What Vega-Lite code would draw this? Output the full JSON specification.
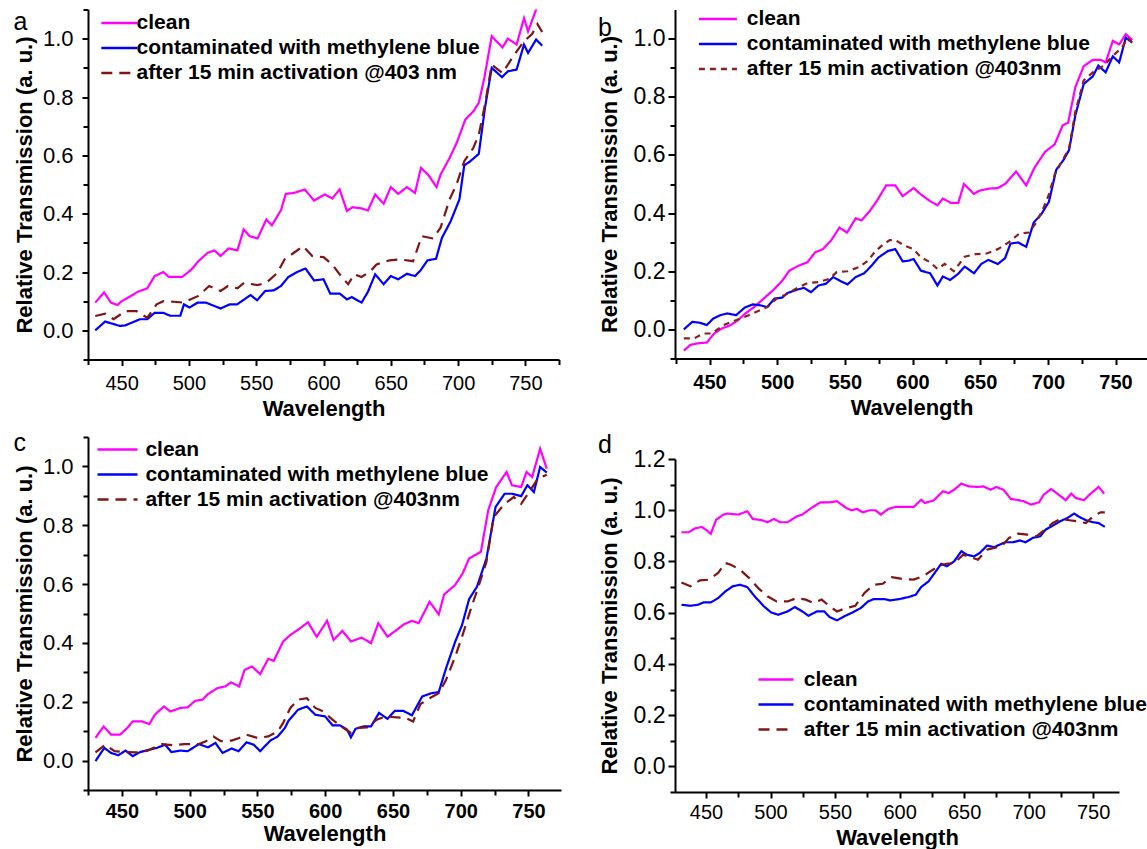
{
"$schema": "https://vega.github.io/schema/vega-lite/v6.json",
"padding": {"left": 13, "top": -2.5, "right": 0, "bottom": 0},
"config": {
  "font": "Liberation Sans",
  "view": {"stroke": null},
  "axis": {"domainColor": "black", "domainWidth": 2, "tickColor": "black", "tickWidth": 2, "labelColor": "black", "titleColor": "black", "grid": false, "titleFontWeight": "bold", "titleFontSize": 22, "labelFontSize": 22, "labelFont": "Liberation Sans", "titleFont": "Liberation Sans"},
  "legend": {"labelFont": "Liberation Sans", "labelFontWeight": "bold", "labelFontSize": 21, "labelColor": "black", "padding": 0, "symbolStrokeWidth": 2.5, "labelLimit": 0, "symbolType": "M-2.5,0H2.5", "rowPadding": 3},
  "title": {"font": "Liberation Sans", "fontWeight": "normal", "fontSize": 25, "color": "black", "anchor": "start", "frame": "bounds"}
},
"resolve": {"scale": {"color": "independent", "strokeDash": "independent"}},
"datasets": {
"a": [
{"s":"clean","w":430.4,"t":0.095},{"s":"clean","w":437,"t":0.13},{"s":"clean","w":442,"t":0.095},{"s":"clean","w":447,"t":0.087},{"s":"clean","w":450,"t":0.1},{"s":"clean","w":457,"t":0.118},{"s":"clean","w":462,"t":0.132},{"s":"clean","w":469,"t":0.144},{"s":"clean","w":474.5,"t":0.186},{"s":"clean","w":481,"t":0.2},{"s":"clean","w":485,"t":0.183},{"s":"clean","w":495,"t":0.183},{"s":"clean","w":502,"t":0.209},{"s":"clean","w":507,"t":0.237},{"s":"clean","w":514,"t":0.266},{"s":"clean","w":519,"t":0.274},{"s":"clean","w":523.5,"t":0.255},{"s":"clean","w":529.5,"t":0.281},{"s":"clean","w":536,"t":0.274},{"s":"clean","w":540.7,"t":0.346},{"s":"clean","w":545,"t":0.323},{"s":"clean","w":551,"t":0.315},{"s":"clean","w":557.5,"t":0.38},{"s":"clean","w":561.6,"t":0.36},{"s":"clean","w":568.4,"t":0.412},{"s":"clean","w":572,"t":0.468},{"s":"clean","w":578,"t":0.471},{"s":"clean","w":586,"t":0.483},{"s":"clean","w":593,"t":0.445},{"s":"clean","w":601,"t":0.466},{"s":"clean","w":606.5,"t":0.452},{"s":"clean","w":612,"t":0.483},{"s":"clean","w":617.4,"t":0.409},{"s":"clean","w":621.5,"t":0.422},{"s":"clean","w":628.3,"t":0.418},{"s":"clean","w":633,"t":0.411},{"s":"clean","w":638.4,"t":0.466},{"s":"clean","w":644.7,"t":0.434},{"s":"clean","w":650,"t":0.491},{"s":"clean","w":655.5,"t":0.468},{"s":"clean","w":662,"t":0.491},{"s":"clean","w":668,"t":0.471},{"s":"clean","w":672.4,"t":0.557},{"s":"clean","w":678,"t":0.532},{"s":"clean","w":684,"t":0.491},{"s":"clean","w":687,"t":0.534},{"s":"clean","w":693.7,"t":0.591},{"s":"clean","w":699,"t":0.643},{"s":"clean","w":705.4,"t":0.723},{"s":"clean","w":711.4,"t":0.751},{"s":"clean","w":715.4,"t":0.78},{"s":"clean","w":719.5,"t":0.865},{"s":"clean","w":725,"t":1.008},{"s":"clean","w":733,"t":0.97},{"s":"clean","w":737,"t":1.0},{"s":"clean","w":743.5,"t":0.98},{"s":"clean","w":749,"t":1.07},{"s":"clean","w":752,"t":1.025},{"s":"clean","w":758,"t":1.1},{"s":"clean","w":762.5,"t":1.13},
{"s":"mb","w":430.4,"t":0.0},{"s":"mb","w":437.7,"t":0.03},{"s":"mb","w":443,"t":0.023},{"s":"mb","w":448.6,"t":0.015},{"s":"mb","w":452.7,"t":0.017},{"s":"mb","w":459.5,"t":0.03},{"s":"mb","w":463.6,"t":0.038},{"s":"mb","w":469,"t":0.038},{"s":"mb","w":474.5,"t":0.06},{"s":"mb","w":481,"t":0.06},{"s":"mb","w":486,"t":0.05},{"s":"mb","w":493.6,"t":0.05},{"s":"mb","w":496.3,"t":0.089},{"s":"mb","w":500.4,"t":0.078},{"s":"mb","w":506.4,"t":0.095},{"s":"mb","w":512.6,"t":0.095},{"s":"mb","w":523.5,"t":0.075},{"s":"mb","w":530.3,"t":0.089},{"s":"mb","w":535.8,"t":0.089},{"s":"mb","w":545.8,"t":0.121},{"s":"mb","w":550.7,"t":0.103},{"s":"mb","w":556.7,"t":0.135},{"s":"mb","w":563,"t":0.137},{"s":"mb","w":568.4,"t":0.152},{"s":"mb","w":573.9,"t":0.183},{"s":"mb","w":580.5,"t":0.2},{"s":"mb","w":586.6,"t":0.212},{"s":"mb","w":593,"t":0.171},{"s":"mb","w":600,"t":0.175},{"s":"mb","w":605,"t":0.126},{"s":"mb","w":612,"t":0.126},{"s":"mb","w":617.4,"t":0.106},{"s":"mb","w":621,"t":0.114},{"s":"mb","w":628.3,"t":0.095},{"s":"mb","w":633,"t":0.132},{"s":"mb","w":638.4,"t":0.192},{"s":"mb","w":644.7,"t":0.158},{"s":"mb","w":650,"t":0.186},{"s":"mb","w":655.5,"t":0.175},{"s":"mb","w":662,"t":0.194},{"s":"mb","w":668,"t":0.186},{"s":"mb","w":672,"t":0.205},{"s":"mb","w":677.3,"t":0.24},{"s":"mb","w":683.6,"t":0.245},{"s":"mb","w":688,"t":0.317},{"s":"mb","w":694.5,"t":0.374},{"s":"mb","w":701,"t":0.449},{"s":"mb","w":704.6,"t":0.566},{"s":"mb","w":708.6,"t":0.578},{"s":"mb","w":715.4,"t":0.605},{"s":"mb","w":720,"t":0.763},{"s":"mb","w":725,"t":0.9},{"s":"mb","w":732.6,"t":0.868},{"s":"mb","w":737,"t":0.888},{"s":"mb","w":743.5,"t":0.894},{"s":"mb","w":749,"t":0.98},{"s":"mb","w":752,"t":0.951},{"s":"mb","w":758,"t":0.997},{"s":"mb","w":762.5,"t":0.976},
{"s":"act","w":430.4,"t":0.049},{"s":"act","w":437.7,"t":0.057},{"s":"act","w":444,"t":0.038},{"s":"act","w":452.7,"t":0.066},{"s":"act","w":461,"t":0.066},{"s":"act","w":469,"t":0.043},{"s":"act","w":476,"t":0.089},{"s":"act","w":481,"t":0.1},{"s":"act","w":489,"t":0.098},{"s":"act","w":496,"t":0.095},{"s":"act","w":507,"t":0.118},{"s":"act","w":515,"t":0.152},{"s":"act","w":523.5,"t":0.135},{"s":"act","w":529,"t":0.152},{"s":"act","w":536,"t":0.144},{"s":"act","w":541,"t":0.163},{"s":"act","w":551,"t":0.155},{"s":"act","w":557.5,"t":0.163},{"s":"act","w":565.7,"t":0.197},{"s":"act","w":571,"t":0.243},{"s":"act","w":578,"t":0.266},{"s":"act","w":584.8,"t":0.289},{"s":"act","w":591.6,"t":0.255},{"s":"act","w":600,"t":0.251},{"s":"act","w":606.5,"t":0.226},{"s":"act","w":612,"t":0.192},{"s":"act","w":618.3,"t":0.158},{"s":"act","w":622.9,"t":0.192},{"s":"act","w":628.3,"t":0.183},{"s":"act","w":635,"t":0.203},{"s":"act","w":639.4,"t":0.226},{"s":"act","w":649,"t":0.24},{"s":"act","w":657,"t":0.243},{"s":"act","w":666.6,"t":0.237},{"s":"act","w":673,"t":0.323},{"s":"act","w":681.4,"t":0.315},{"s":"act","w":687,"t":0.352},{"s":"act","w":693.7,"t":0.449},{"s":"act","w":699,"t":0.502},{"s":"act","w":704.6,"t":0.58},{"s":"act","w":711.4,"t":0.626},{"s":"act","w":715.4,"t":0.671},{"s":"act","w":720,"t":0.774},{"s":"act","w":725,"t":0.911},{"s":"act","w":733,"t":0.882},{"s":"act","w":741,"t":0.94},{"s":"act","w":749,"t":0.991},{"s":"act","w":755,"t":1.016},{"s":"act","w":759,"t":1.05},{"s":"act","w":762.5,"t":1.023}
],
"b": [
{"s":"clean","w":431,"t":-0.073},{"s":"clean","w":436,"t":-0.053},{"s":"clean","w":441.4,"t":-0.048},{"s":"clean","w":448,"t":-0.045},{"s":"clean","w":453.5,"t":-0.014},{"s":"clean","w":459,"t":0.003},{"s":"clean","w":465.7,"t":0.015},{"s":"clean","w":471,"t":0.032},{"s":"clean","w":476.5,"t":0.055},{"s":"clean","w":483,"t":0.077},{"s":"clean","w":490,"t":0.106},{"s":"clean","w":496.8,"t":0.134},{"s":"clean","w":503.5,"t":0.166},{"s":"clean","w":509,"t":0.202},{"s":"clean","w":515.7,"t":0.219},{"s":"clean","w":522.4,"t":0.231},{"s":"clean","w":528,"t":0.265},{"s":"clean","w":533.8,"t":0.276},{"s":"clean","w":540,"t":0.307},{"s":"clean","w":546,"t":0.35},{"s":"clean","w":551.6,"t":0.333},{"s":"clean","w":558,"t":0.382},{"s":"clean","w":562.4,"t":0.375},{"s":"clean","w":568.4,"t":0.407},{"s":"clean","w":573.8,"t":0.443},{"s":"clean","w":580.5,"t":0.495},{"s":"clean","w":587.3,"t":0.495},{"s":"clean","w":592.7,"t":0.458},{"s":"clean","w":600.8,"t":0.486},{"s":"clean","w":606.2,"t":0.464},{"s":"clean","w":613,"t":0.441},{"s":"clean","w":618.4,"t":0.427},{"s":"clean","w":622.4,"t":0.45},{"s":"clean","w":628.4,"t":0.435},{"s":"clean","w":633.8,"t":0.435},{"s":"clean","w":638,"t":0.5},{"s":"clean","w":645.4,"t":0.466},{"s":"clean","w":649.5,"t":0.477},{"s":"clean","w":656.2,"t":0.484},{"s":"clean","w":663,"t":0.486},{"s":"clean","w":668.4,"t":0.5},{"s":"clean","w":676.5,"t":0.543},{"s":"clean","w":684,"t":0.495},{"s":"clean","w":690,"t":0.555},{"s":"clean","w":698,"t":0.611},{"s":"clean","w":705,"t":0.636},{"s":"clean","w":711,"t":0.702},{"s":"clean","w":715,"t":0.711},{"s":"clean","w":720.3,"t":0.833},{"s":"clean","w":726.5,"t":0.905},{"s":"clean","w":733.2,"t":0.927},{"s":"clean","w":739,"t":0.927},{"s":"clean","w":742.7,"t":0.918},{"s":"clean","w":748,"t":0.992},{"s":"clean","w":752.7,"t":0.98},{"s":"clean","w":757.6,"t":1.015},{"s":"clean","w":762.4,"t":0.995},
{"s":"mb","w":431,"t":0.0},{"s":"mb","w":437.3,"t":0.026},{"s":"mb","w":442.7,"t":0.023},{"s":"mb","w":448,"t":0.015},{"s":"mb","w":452.7,"t":0.037},{"s":"mb","w":458,"t":0.049},{"s":"mb","w":463,"t":0.055},{"s":"mb","w":469.7,"t":0.049},{"s":"mb","w":476,"t":0.075},{"s":"mb","w":482,"t":0.086},{"s":"mb","w":487.3,"t":0.083},{"s":"mb","w":492.7,"t":0.077},{"s":"mb","w":498,"t":0.106},{"s":"mb","w":503.5,"t":0.109},{"s":"mb","w":507.6,"t":0.125},{"s":"mb","w":514.3,"t":0.136},{"s":"mb","w":519.7,"t":0.143},{"s":"mb","w":525,"t":0.128},{"s":"mb","w":530.5,"t":0.151},{"s":"mb","w":536,"t":0.157},{"s":"mb","w":541.4,"t":0.18},{"s":"mb","w":546.8,"t":0.166},{"s":"mb","w":552,"t":0.155},{"s":"mb","w":558,"t":0.18},{"s":"mb","w":564.3,"t":0.193},{"s":"mb","w":569.7,"t":0.219},{"s":"mb","w":575,"t":0.248},{"s":"mb","w":582,"t":0.27},{"s":"mb","w":587.3,"t":0.276},{"s":"mb","w":592.7,"t":0.234},{"s":"mb","w":596.8,"t":0.236},{"s":"mb","w":600.8,"t":0.242},{"s":"mb","w":606.2,"t":0.202},{"s":"mb","w":613,"t":0.193},{"s":"mb","w":618.4,"t":0.151},{"s":"mb","w":622.4,"t":0.182},{"s":"mb","w":627.8,"t":0.17},{"s":"mb","w":633.2,"t":0.189},{"s":"mb","w":638.6,"t":0.216},{"s":"mb","w":645.4,"t":0.193},{"s":"mb","w":650.8,"t":0.225},{"s":"mb","w":656,"t":0.239},{"s":"mb","w":663,"t":0.225},{"s":"mb","w":668.4,"t":0.245},{"s":"mb","w":672.4,"t":0.295},{"s":"mb","w":678,"t":0.299},{"s":"mb","w":684,"t":0.284},{"s":"mb","w":689.5,"t":0.367},{"s":"mb","w":695.4,"t":0.398},{"s":"mb","w":700.8,"t":0.439},{"s":"mb","w":706.2,"t":0.549},{"s":"mb","w":711.6,"t":0.583},{"s":"mb","w":715.7,"t":0.617},{"s":"mb","w":720.3,"t":0.736},{"s":"mb","w":726.5,"t":0.844},{"s":"mb","w":733.2,"t":0.87},{"s":"mb","w":737.3,"t":0.907},{"s":"mb","w":742.7,"t":0.884},{"s":"mb","w":748,"t":0.939},{"s":"mb","w":752.7,"t":0.918},{"s":"mb","w":757.6,"t":1.003},{"s":"mb","w":762.4,"t":0.986},
{"s":"act","w":431,"t":-0.031},{"s":"act","w":438.6,"t":-0.031},{"s":"act","w":445.4,"t":-0.014},{"s":"act","w":452,"t":-0.014},{"s":"act","w":460.3,"t":0.015},{"s":"act","w":471,"t":0.034},{"s":"act","w":479,"t":0.049},{"s":"act","w":487.3,"t":0.066},{"s":"act","w":492.7,"t":0.077},{"s":"act","w":499.5,"t":0.106},{"s":"act","w":507.6,"t":0.123},{"s":"act","w":515.7,"t":0.145},{"s":"act","w":522.4,"t":0.159},{"s":"act","w":530.5,"t":0.163},{"s":"act","w":538.6,"t":0.174},{"s":"act","w":544,"t":0.197},{"s":"act","w":552,"t":0.2},{"s":"act","w":560.3,"t":0.214},{"s":"act","w":567,"t":0.236},{"s":"act","w":572.4,"t":0.268},{"s":"act","w":578,"t":0.291},{"s":"act","w":583.2,"t":0.307},{"s":"act","w":587.3,"t":0.307},{"s":"act","w":594,"t":0.288},{"s":"act","w":600.8,"t":0.276},{"s":"act","w":606.2,"t":0.248},{"s":"act","w":613,"t":0.231},{"s":"act","w":618.4,"t":0.208},{"s":"act","w":623.8,"t":0.225},{"s":"act","w":630.5,"t":0.2},{"s":"act","w":638.6,"t":0.25},{"s":"act","w":646.7,"t":0.259},{"s":"act","w":654.8,"t":0.261},{"s":"act","w":663,"t":0.276},{"s":"act","w":671,"t":0.299},{"s":"act","w":679,"t":0.33},{"s":"act","w":686,"t":0.333},{"s":"act","w":691.4,"t":0.367},{"s":"act","w":696.8,"t":0.418},{"s":"act","w":700.8,"t":0.464},{"s":"act","w":705,"t":0.532},{"s":"act","w":709,"t":0.566},{"s":"act","w":715.7,"t":0.623},{"s":"act","w":720.3,"t":0.748},{"s":"act","w":726.5,"t":0.856},{"s":"act","w":733.2,"t":0.884},{"s":"act","w":741.4,"t":0.907},{"s":"act","w":748,"t":0.941},{"s":"act","w":754.9,"t":0.969},{"s":"act","w":759,"t":1.003},{"s":"act","w":762.4,"t":0.986}
],
"c": [
{"s":"clean","w":430.5,"t":0.077},{"s":"clean","w":436.5,"t":0.116},{"s":"clean","w":442,"t":0.088},{"s":"clean","w":448.6,"t":0.088},{"s":"clean","w":454,"t":0.111},{"s":"clean","w":458,"t":0.133},{"s":"clean","w":464.9,"t":0.133},{"s":"clean","w":470.3,"t":0.124},{"s":"clean","w":474.3,"t":0.156},{"s":"clean","w":481,"t":0.184},{"s":"clean","w":485.7,"t":0.167},{"s":"clean","w":493.2,"t":0.179},{"s":"clean","w":498.6,"t":0.181},{"s":"clean","w":504,"t":0.203},{"s":"clean","w":509.5,"t":0.207},{"s":"clean","w":513.5,"t":0.226},{"s":"clean","w":520.3,"t":0.246},{"s":"clean","w":526.2,"t":0.252},{"s":"clean","w":530.5,"t":0.266},{"s":"clean","w":536.5,"t":0.252},{"s":"clean","w":540.5,"t":0.308},{"s":"clean","w":546,"t":0.32},{"s":"clean","w":552,"t":0.294},{"s":"clean","w":558,"t":0.346},{"s":"clean","w":562,"t":0.339},{"s":"clean","w":569,"t":0.405},{"s":"clean","w":574.3,"t":0.427},{"s":"clean","w":579.7,"t":0.444},{"s":"clean","w":587.3,"t":0.47},{"s":"clean","w":593.8,"t":0.421},{"s":"clean","w":601.4,"t":0.475},{"s":"clean","w":606.2,"t":0.41},{"s":"clean","w":612.7,"t":0.441},{"s":"clean","w":619,"t":0.405},{"s":"clean","w":627,"t":0.418},{"s":"clean","w":633.8,"t":0.399},{"s":"clean","w":639.2,"t":0.467},{"s":"clean","w":646,"t":0.421},{"s":"clean","w":652.7,"t":0.444},{"s":"clean","w":658,"t":0.463},{"s":"clean","w":664,"t":0.475},{"s":"clean","w":669,"t":0.467},{"s":"clean","w":677,"t":0.54},{"s":"clean","w":683.8,"t":0.497},{"s":"clean","w":687.8,"t":0.565},{"s":"clean","w":695.9,"t":0.597},{"s":"clean","w":701.4,"t":0.636},{"s":"clean","w":706.2,"t":0.687},{"s":"clean","w":714.9,"t":0.71},{"s":"clean","w":720.3,"t":0.851},{"s":"clean","w":726.2,"t":0.93},{"s":"clean","w":733.8,"t":0.981},{"s":"clean","w":737.8,"t":0.936},{"s":"clean","w":744.6,"t":0.93},{"s":"clean","w":748.6,"t":0.981},{"s":"clean","w":752.7,"t":0.964},{"s":"clean","w":758.6,"t":1.06},{"s":"clean","w":763.5,"t":0.992},
{"s":"mb","w":430.5,"t":-0.002},{"s":"mb","w":437,"t":0.043},{"s":"mb","w":442,"t":0.026},{"s":"mb","w":447.3,"t":0.018},{"s":"mb","w":452.7,"t":0.034},{"s":"mb","w":458,"t":0.015},{"s":"mb","w":463.5,"t":0.029},{"s":"mb","w":470.3,"t":0.037},{"s":"mb","w":475.7,"t":0.043},{"s":"mb","w":482,"t":0.054},{"s":"mb","w":486.5,"t":0.029},{"s":"mb","w":493.2,"t":0.034},{"s":"mb","w":498.6,"t":0.032},{"s":"mb","w":506.8,"t":0.056},{"s":"mb","w":513.5,"t":0.045},{"s":"mb","w":519,"t":0.06},{"s":"mb","w":524.3,"t":0.026},{"s":"mb","w":531,"t":0.041},{"s":"mb","w":536,"t":0.032},{"s":"mb","w":542,"t":0.062},{"s":"mb","w":547.3,"t":0.054},{"s":"mb","w":552,"t":0.032},{"s":"mb","w":559.5,"t":0.068},{"s":"mb","w":565,"t":0.082},{"s":"mb","w":570.3,"t":0.111},{"s":"mb","w":573,"t":0.136},{"s":"mb","w":580,"t":0.173},{"s":"mb","w":586.5,"t":0.184},{"s":"mb","w":592.7,"t":0.156},{"s":"mb","w":600,"t":0.15},{"s":"mb","w":605.4,"t":0.12},{"s":"mb","w":610.8,"t":0.12},{"s":"mb","w":616.2,"t":0.105},{"s":"mb","w":619,"t":0.079},{"s":"mb","w":622.4,"t":0.108},{"s":"mb","w":628.4,"t":0.116},{"s":"mb","w":633.8,"t":0.116},{"s":"mb","w":639.7,"t":0.162},{"s":"mb","w":646,"t":0.142},{"s":"mb","w":651.4,"t":0.169},{"s":"mb","w":657.6,"t":0.169},{"s":"mb","w":664,"t":0.154},{"s":"mb","w":671.6,"t":0.218},{"s":"mb","w":678.4,"t":0.229},{"s":"mb","w":683.8,"t":0.233},{"s":"mb","w":689.2,"t":0.314},{"s":"mb","w":696,"t":0.405},{"s":"mb","w":701,"t":0.461},{"s":"mb","w":706.2,"t":0.549},{"s":"mb","w":712,"t":0.591},{"s":"mb","w":719,"t":0.687},{"s":"mb","w":725.7,"t":0.862},{"s":"mb","w":732.4,"t":0.907},{"s":"mb","w":737.8,"t":0.907},{"s":"mb","w":744.6,"t":0.899},{"s":"mb","w":749.2,"t":0.936},{"s":"mb","w":754,"t":0.913},{"s":"mb","w":758.6,"t":0.998},{"s":"mb","w":763.5,"t":0.979},
{"s":"act","w":430.5,"t":0.028},{"s":"act","w":437.8,"t":0.054},{"s":"act","w":444.6,"t":0.032},{"s":"act","w":452.7,"t":0.029},{"s":"act","w":460.8,"t":0.028},{"s":"act","w":469,"t":0.034},{"s":"act","w":479.7,"t":0.056},{"s":"act","w":487.8,"t":0.052},{"s":"act","w":496,"t":0.056},{"s":"act","w":506.8,"t":0.056},{"s":"act","w":512,"t":0.066},{"s":"act","w":517.6,"t":0.082},{"s":"act","w":523,"t":0.066},{"s":"act","w":531,"t":0.068},{"s":"act","w":536.5,"t":0.077},{"s":"act","w":542,"t":0.088},{"s":"act","w":550,"t":0.077},{"s":"act","w":558,"t":0.082},{"s":"act","w":565,"t":0.099},{"s":"act","w":569,"t":0.128},{"s":"act","w":574.3,"t":0.179},{"s":"act","w":580,"t":0.207},{"s":"act","w":586.5,"t":0.212},{"s":"act","w":592.7,"t":0.179},{"s":"act","w":598.6,"t":0.167},{"s":"act","w":605.4,"t":0.139},{"s":"act","w":612,"t":0.116},{"s":"act","w":619,"t":0.094},{"s":"act","w":624.3,"t":0.111},{"s":"act","w":631,"t":0.113},{"s":"act","w":638,"t":0.139},{"s":"act","w":644.6,"t":0.15},{"s":"act","w":652.7,"t":0.147},{"s":"act","w":659.5,"t":0.145},{"s":"act","w":664.9,"t":0.133},{"s":"act","w":670.3,"t":0.192},{"s":"act","w":677,"t":0.212},{"s":"act","w":683.8,"t":0.229},{"s":"act","w":689.2,"t":0.275},{"s":"act","w":696,"t":0.354},{"s":"act","w":701.4,"t":0.427},{"s":"act","w":708,"t":0.523},{"s":"act","w":713.5,"t":0.597},{"s":"act","w":719,"t":0.676},{"s":"act","w":724.3,"t":0.828},{"s":"act","w":732.4,"t":0.873},{"s":"act","w":739.2,"t":0.896},{"s":"act","w":744.6,"t":0.873},{"s":"act","w":751.4,"t":0.919},{"s":"act","w":756.8,"t":0.958},{"s":"act","w":763.5,"t":0.972}
],
"d": [
{"s":"clean","w":431,"t":0.914},{"s":"clean","w":436.7,"t":0.914},{"s":"clean","w":441,"t":0.928},{"s":"clean","w":446.6,"t":0.935},{"s":"clean","w":450,"t":0.924},{"s":"clean","w":453.7,"t":0.908},{"s":"clean","w":457.9,"t":0.963},{"s":"clean","w":463.6,"t":0.983},{"s":"clean","w":466.4,"t":0.987},{"s":"clean","w":475,"t":0.983},{"s":"clean","w":482,"t":0.996},{"s":"clean","w":486.3,"t":0.966},{"s":"clean","w":493.4,"t":0.961},{"s":"clean","w":497.6,"t":0.953},{"s":"clean","w":502.7,"t":0.966},{"s":"clean","w":507.5,"t":0.953},{"s":"clean","w":513.2,"t":0.953},{"s":"clean","w":520.3,"t":0.976},{"s":"clean","w":524.6,"t":0.983},{"s":"clean","w":531.7,"t":1.009},{"s":"clean","w":538.7,"t":1.031},{"s":"clean","w":545.8,"t":1.031},{"s":"clean","w":551.5,"t":1.035},{"s":"clean","w":558.6,"t":1.009},{"s":"clean","w":562.8,"t":1.0},{"s":"clean","w":567,"t":1.005},{"s":"clean","w":571.4,"t":0.992},{"s":"clean","w":577,"t":1.0},{"s":"clean","w":581.3,"t":1.0},{"s":"clean","w":585.5,"t":0.983},{"s":"clean","w":591.2,"t":1.005},{"s":"clean","w":596.9,"t":1.013},{"s":"clean","w":605.4,"t":1.013},{"s":"clean","w":611,"t":1.013},{"s":"clean","w":616.7,"t":1.041},{"s":"clean","w":619.5,"t":1.028},{"s":"clean","w":626.6,"t":1.039},{"s":"clean","w":630.9,"t":1.061},{"s":"clean","w":633.7,"t":1.074},{"s":"clean","w":638,"t":1.067},{"s":"clean","w":642.2,"t":1.08},{"s":"clean","w":647.9,"t":1.104},{"s":"clean","w":653.6,"t":1.093},{"s":"clean","w":660.7,"t":1.091},{"s":"clean","w":664.9,"t":1.093},{"s":"clean","w":670.6,"t":1.08},{"s":"clean","w":674.8,"t":1.091},{"s":"clean","w":680.5,"t":1.08},{"s":"clean","w":686.2,"t":1.044},{"s":"clean","w":690.4,"t":1.041},{"s":"clean","w":696.1,"t":1.035},{"s":"clean","w":701.8,"t":1.022},{"s":"clean","w":708,"t":1.031},{"s":"clean","w":711.7,"t":1.061},{"s":"clean","w":717.4,"t":1.083},{"s":"clean","w":721.6,"t":1.067},{"s":"clean","w":728.7,"t":1.039},{"s":"clean","w":733,"t":1.065},{"s":"clean","w":736.4,"t":1.048},{"s":"clean","w":742.9,"t":1.039},{"s":"clean","w":747.2,"t":1.061},{"s":"clean","w":754.2,"t":1.091},{"s":"clean","w":758.5,"t":1.065},
{"s":"mb","w":431,"t":0.631},{"s":"mb","w":438,"t":0.627},{"s":"mb","w":443.8,"t":0.631},{"s":"mb","w":448,"t":0.64},{"s":"mb","w":453.7,"t":0.64},{"s":"mb","w":459.4,"t":0.657},{"s":"mb","w":465,"t":0.683},{"s":"mb","w":470.7,"t":0.703},{"s":"mb","w":476.4,"t":0.709},{"s":"mb","w":482,"t":0.7},{"s":"mb","w":487.7,"t":0.664},{"s":"mb","w":494.8,"t":0.625},{"s":"mb","w":500.5,"t":0.601},{"s":"mb","w":506,"t":0.592},{"s":"mb","w":513.2,"t":0.605},{"s":"mb","w":518.9,"t":0.622},{"s":"mb","w":524.6,"t":0.605},{"s":"mb","w":529.4,"t":0.588},{"s":"mb","w":535.9,"t":0.605},{"s":"mb","w":541.6,"t":0.605},{"s":"mb","w":545.8,"t":0.583},{"s":"mb","w":551.5,"t":0.57},{"s":"mb","w":557.2,"t":0.586},{"s":"mb","w":562.8,"t":0.599},{"s":"mb","w":569.9,"t":0.618},{"s":"mb","w":575.6,"t":0.644},{"s":"mb","w":579.9,"t":0.653},{"s":"mb","w":588.4,"t":0.653},{"s":"mb","w":592.6,"t":0.648},{"s":"mb","w":599.7,"t":0.653},{"s":"mb","w":606.8,"t":0.661},{"s":"mb","w":612.5,"t":0.67},{"s":"mb","w":616.7,"t":0.7},{"s":"mb","w":622.4,"t":0.722},{"s":"mb","w":628,"t":0.761},{"s":"mb","w":632.3,"t":0.791},{"s":"mb","w":636.5,"t":0.781},{"s":"mb","w":642.2,"t":0.8},{"s":"mb","w":647.9,"t":0.84},{"s":"mb","w":652.2,"t":0.826},{"s":"mb","w":657.8,"t":0.82},{"s":"mb","w":662.1,"t":0.833},{"s":"mb","w":667.7,"t":0.862},{"s":"mb","w":673.4,"t":0.856},{"s":"mb","w":677.7,"t":0.866},{"s":"mb","w":681.9,"t":0.875},{"s":"mb","w":687.6,"t":0.875},{"s":"mb","w":693.3,"t":0.882},{"s":"mb","w":697.5,"t":0.875},{"s":"mb","w":703.2,"t":0.892},{"s":"mb","w":708.9,"t":0.898},{"s":"mb","w":713.1,"t":0.924},{"s":"mb","w":718.8,"t":0.94},{"s":"mb","w":724.5,"t":0.957},{"s":"mb","w":730.1,"t":0.97},{"s":"mb","w":735.2,"t":0.987},{"s":"mb","w":738.6,"t":0.976},{"s":"mb","w":744.3,"t":0.961},{"s":"mb","w":750,"t":0.953},{"s":"mb","w":754.2,"t":0.95},{"s":"mb","w":759,"t":0.935},
{"s":"act","w":431,"t":0.718},{"s":"act","w":438,"t":0.703},{"s":"act","w":445.2,"t":0.726},{"s":"act","w":452.3,"t":0.729},{"s":"act","w":459.4,"t":0.755},{"s":"act","w":465,"t":0.794},{"s":"act","w":469.3,"t":0.787},{"s":"act","w":476.4,"t":0.768},{"s":"act","w":483.5,"t":0.735},{"s":"act","w":490.5,"t":0.696},{"s":"act","w":497.6,"t":0.664},{"s":"act","w":504.7,"t":0.644},{"s":"act","w":513.2,"t":0.644},{"s":"act","w":520.3,"t":0.657},{"s":"act","w":527.4,"t":0.651},{"s":"act","w":533,"t":0.638},{"s":"act","w":539.6,"t":0.651},{"s":"act","w":545.8,"t":0.625},{"s":"act","w":551.5,"t":0.605},{"s":"act","w":558.6,"t":0.618},{"s":"act","w":565.7,"t":0.627},{"s":"act","w":572.8,"t":0.677},{"s":"act","w":579.9,"t":0.709},{"s":"act","w":587,"t":0.713},{"s":"act","w":594.1,"t":0.739},{"s":"act","w":602.6,"t":0.731},{"s":"act","w":611,"t":0.729},{"s":"act","w":618.1,"t":0.742},{"s":"act","w":623.8,"t":0.761},{"s":"act","w":630.9,"t":0.784},{"s":"act","w":636.5,"t":0.791},{"s":"act","w":642.2,"t":0.794},{"s":"act","w":649.3,"t":0.826},{"s":"act","w":655,"t":0.817},{"s":"act","w":660.7,"t":0.807},{"s":"act","w":667.7,"t":0.846},{"s":"act","w":673.4,"t":0.853},{"s":"act","w":679.1,"t":0.859},{"s":"act","w":684.8,"t":0.892},{"s":"act","w":691.8,"t":0.909},{"s":"act","w":698.9,"t":0.905},{"s":"act","w":706,"t":0.898},{"s":"act","w":713.1,"t":0.927},{"s":"act","w":718.8,"t":0.95},{"s":"act","w":724.5,"t":0.966},{"s":"act","w":731.6,"t":0.961},{"s":"act","w":737.2,"t":0.957},{"s":"act","w":744.3,"t":0.95},{"s":"act","w":750,"t":0.976},{"s":"act","w":755.7,"t":0.992},{"s":"act","w":759,"t":0.992}
]
},
"hconcat": [
{"resolve": {"scale": {"color": "independent", "strokeDash": "independent"}}, "vconcat": [
 {"width": 471, "height": 350, "title": {"text": "a", "offset": -37}, "data": {"name": "a"},
  "layer": [
   {"mark": {"type": "line", "strokeWidth": 2.2, "clip": true},
    "encoding": {
     "x": {"field": "w", "type": "quantitative", "scale": {"domain": [425, 775], "nice": false, "zero": false}, "axis": {"values": [450,500,550,600,650,700,750], "title": "Wavelength", "tickSize": 6, "labelPadding": 8, "titlePadding": 5, "labelFontSize": 20}},
     "y": {"field": "t", "type": "quantitative", "scale": {"domain": [-0.1, 1.1], "nice": false, "zero": false}, "axis": {"values": [0,0.2,0.4,0.6,0.8,1], "format": ".1f", "title": "Relative Transmission (a. u.)", "tickSize": 6, "labelPadding": 9, "titlePadding": 6}},
     "color": {"field": "s", "type": "nominal", "scale": {"domain": ["clean","mb","act"], "range": ["#ff00ff","#0000ff","#7f1515"]}, "legend": {"title": null, "orient": "none", "legendX": 20.8, "legendY": 3, "symbolSize": 207, "labelOffset": 6.8, "labelExpr": "datum.value == 'clean' ? 'clean' : datum.value == 'mb' ? 'contaminated with methylene blue' : 'after 15 min activation @403 nm'"}},
     "strokeDash": {"field": "s", "type": "nominal", "scale": {"domain": ["clean","mb","act"], "range": [[1,0],[1,0],[11,7]]}, "legend": {"title": null, "orient": "none", "legendX": 20.8, "legendY": 3, "symbolSize": 207, "labelOffset": 6.8, "labelExpr": "datum.value == 'clean' ? 'clean' : datum.value == 'mb' ? 'contaminated with methylene blue' : 'after 15 min activation @403 nm'"}}
    }},
   {"mark": {"type": "point", "opacity": 0},
    "encoding": {
     "x": {"field": "w", "type": "quantitative", "axis": {"orient": "bottom", "values": [425,475,525,575,625,675,725,775], "labels": false, "domain": false, "title": null, "tickSize": 5}},
     "y": {"field": "t", "type": "quantitative", "axis": {"orient": "left", "values": [-0.1,0.1,0.3,0.5,0.7,0.9,1.1], "labels": false, "domain": false, "title": null, "tickSize": 5}}
    }}
  ],
  "resolve": {"axis": {"x": "independent", "y": "independent"}}
 },
 {"width": 473, "height": 353, "title": {"text": "c", "offset": -19.5}, "data": {"name": "c"},
  "layer": [
   {"mark": {"type": "line", "strokeWidth": 2.2, "clip": true},
    "encoding": {
     "x": {"field": "w", "type": "quantitative", "scale": {"domain": [425, 774], "nice": false, "zero": false}, "axis": {"values": [450,500,550,600,650,700,750], "title": "Wavelength", "tickSize": 6, "labelPadding": 5, "titlePadding": 2, "labelFontSize": 20, "labelFontWeight": "bold"}},
     "y": {"field": "t", "type": "quantitative", "scale": {"domain": [-0.1, 1.1], "nice": false, "zero": false}, "axis": {"values": [0,0.2,0.4,0.6,0.8,1], "format": ".1f", "title": "Relative Transmission (a. u.)", "tickSize": 6, "labelPadding": 9, "titlePadding": 6}},
     "color": {"field": "s", "type": "nominal", "scale": {"domain": ["clean","mb","act"], "range": ["#ff00ff","#0000ff","#7f1515"]}, "legend": {"title": null, "orient": "none", "legendX": 19, "legendY": 2, "symbolSize": 256, "labelOffset": 17.4, "labelExpr": "datum.value == 'clean' ? 'clean' : datum.value == 'mb' ? 'contaminated with methylene blue' : 'after 15 min activation @403nm'"}},
     "strokeDash": {"field": "s", "type": "nominal", "scale": {"domain": ["clean","mb","act"], "range": [[1,0],[1,0],[11,7]]}, "legend": {"title": null, "orient": "none", "legendX": 19, "legendY": 2, "symbolSize": 256, "labelOffset": 17.4, "labelExpr": "datum.value == 'clean' ? 'clean' : datum.value == 'mb' ? 'contaminated with methylene blue' : 'after 15 min activation @403nm'"}}
    }},
   {"mark": {"type": "point", "opacity": 0},
    "encoding": {
     "x": {"field": "w", "type": "quantitative", "axis": {"orient": "bottom", "values": [425,475,525,575,625,675,725], "labels": false, "domain": false, "title": null, "tickSize": 5}},
     "y": {"field": "t", "type": "quantitative", "axis": {"orient": "left", "values": [-0.1,0.1,0.3,0.5,0.7,0.9,1.1], "labels": false, "domain": false, "title": null, "tickSize": 5}}
    }}
  ],
  "resolve": {"axis": {"x": "independent", "y": "independent"}}
 }
], "spacing": 10.5},
{"resolve": {"scale": {"color": "independent", "strokeDash": "independent"}}, "vconcat": [
 {"width": 473, "height": 349, "title": {"text": "b", "offset": -32}, "data": {"name": "b"},
  "layer": [
   {"mark": {"type": "line", "strokeWidth": 2.2, "clip": true},
    "encoding": {
     "x": {"field": "w", "type": "quantitative", "scale": {"domain": [424.5, 774], "nice": false, "zero": false}, "axis": {"values": [450,500,550,600,650,700,750], "title": "Wavelength", "tickSize": 6, "labelPadding": 8, "titlePadding": 5, "labelFontSize": 20, "labelFontWeight": "bold"}},
     "y": {"field": "t", "type": "quantitative", "scale": {"domain": [-0.1, 1.1], "nice": false, "zero": false}, "axis": {"values": [0,0.2,0.4,0.6,0.8,1], "format": ".1f", "title": "Relative Transmission (a. u.)", "tickSize": 7, "labelPadding": 3, "titlePadding": 12, "labelFontSize": 23}},
     "color": {"field": "s", "type": "nominal", "scale": {"domain": ["clean","mb","act"], "range": ["#ff00ff","#0000ff","#8b2020"]}, "legend": {"title": null, "orient": "none", "legendX": 32.4, "legendY": -1, "symbolSize": 231, "labelOffset": 18.4, "labelExpr": "datum.value == 'clean' ? 'clean' : datum.value == 'mb' ? 'contaminated with methylene blue' : 'after 15 min activation @403nm'"}},
     "strokeDash": {"field": "s", "type": "nominal", "scale": {"domain": ["clean","mb","act"], "range": [[1,0],[1,0],[6,5]]}, "legend": {"title": null, "orient": "none", "legendX": 32.4, "legendY": -1, "symbolSize": 231, "labelOffset": 18.4, "labelExpr": "datum.value == 'clean' ? 'clean' : datum.value == 'mb' ? 'contaminated with methylene blue' : 'after 15 min activation @403nm'"}}
    }},
   {"mark": {"type": "point", "opacity": 0},
    "encoding": {
     "x": {"field": "w", "type": "quantitative", "axis": {"orient": "bottom", "values": [425,475,525,575,625,675,725], "labels": false, "domain": false, "title": null, "tickSize": 5}},
     "y": {"field": "t", "type": "quantitative", "axis": {"orient": "left", "values": [-0.1,0.1,0.3,0.5,0.7,0.9], "labels": false, "domain": false, "title": null, "tickSize": 5}}
    }}
  ],
  "resolve": {"axis": {"x": "independent", "y": "independent"}}
 },
 {"width": 444, "height": 333, "title": {"text": "d", "offset": -10}, "data": {"name": "d"},
  "layer": [
   {"mark": {"type": "line", "strokeWidth": 2.2, "clip": true},
    "encoding": {
     "x": {"field": "w", "type": "quantitative", "scale": {"domain": [426, 770], "nice": false, "zero": false}, "axis": {"values": [450,500,550,600,650,700,750], "title": "Wavelength", "tickSize": 6, "labelPadding": 4, "titlePadding": 5, "labelFontSize": 20}},
     "y": {"field": "t", "type": "quantitative", "scale": {"domain": [-0.1, 1.2], "nice": false, "zero": false}, "axis": {"values": [0,0.2,0.4,0.6,0.8,1,1.2], "format": ".1f", "title": "Relative Transmission (a. u.)", "tickSize": 7, "labelPadding": 3, "titlePadding": 12, "labelFontSize": 23}},
     "color": {"field": "s", "type": "nominal", "scale": {"domain": ["clean","mb","act"], "range": ["#ff00ff","#0000ff","#7f1515"]}, "legend": {"title": null, "orient": "none", "legendX": 90.5, "legendY": 210, "symbolSize": 196, "labelOffset": 17.3, "labelExpr": "datum.value == 'clean' ? 'clean' : datum.value == 'mb' ? 'contaminated with methylene blue' : 'after 15 min activation @403nm'"}},
     "strokeDash": {"field": "s", "type": "nominal", "scale": {"domain": ["clean","mb","act"], "range": [[1,0],[1,0],[11,7]]}, "legend": {"title": null, "orient": "none", "legendX": 90.5, "legendY": 210, "symbolSize": 196, "labelOffset": 17.3, "labelExpr": "datum.value == 'clean' ? 'clean' : datum.value == 'mb' ? 'contaminated with methylene blue' : 'after 15 min activation @403nm'"}}
    }},
   {"mark": {"type": "point", "opacity": 0},
    "encoding": {
     "x": {"field": "w", "type": "quantitative", "axis": {"orient": "bottom", "values": [475,525,575,625,675,725], "labels": false, "domain": false, "title": null, "tickSize": 5}},
     "y": {"field": "t", "type": "quantitative", "axis": {"orient": "left", "values": [-0.1,0.1,0.3,0.5,0.7,0.9,1.1], "labels": false, "domain": false, "title": null, "tickSize": 5}}
    }}
  ],
  "resolve": {"axis": {"x": "independent", "y": "independent"}}
 }
], "spacing": 14.5}
],
"spacing": 37
}
